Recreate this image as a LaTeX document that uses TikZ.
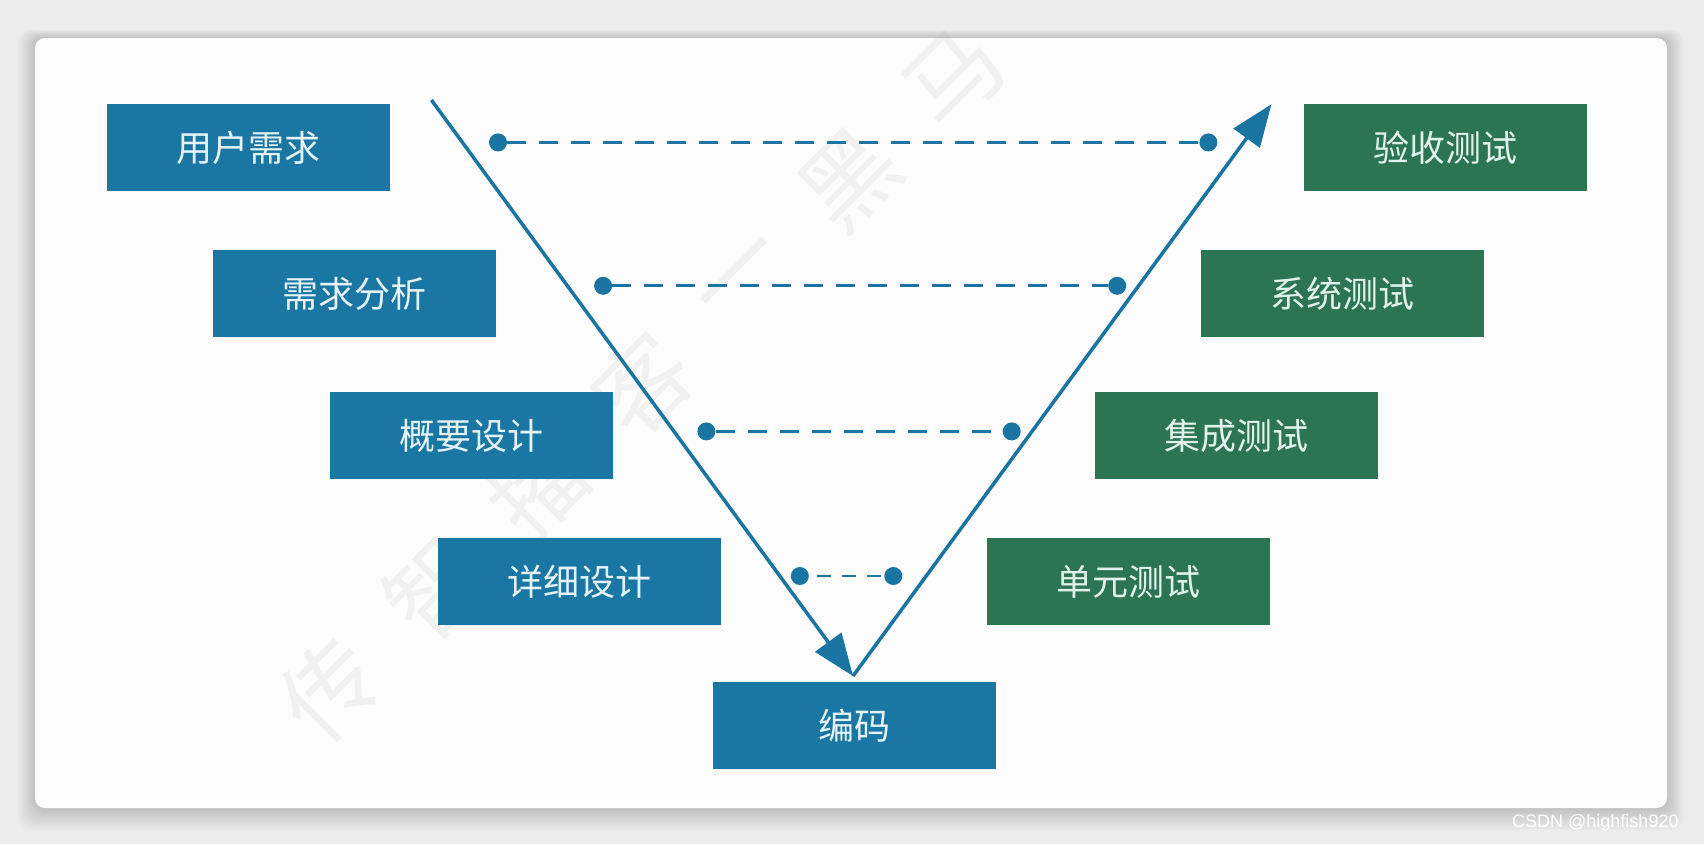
\documentclass[tikz,border=0pt]{standalone}
\usepackage{fontspec}
\setmainfont{Noto Sans CJK SC}
\newfontfamily\latinsans{Liberation Sans}
\usetikzlibrary{arrows.meta}
\definecolor{vblue}{HTML}{1A77A4}
\definecolor{vgreen}{HTML}{2B7553}
\definecolor{vline}{HTML}{1A75A2}
\definecolor{bgout}{HTML}{ECECEC}
\definecolor{cardbg}{HTML}{FBFCFB}
\definecolor{textblue}{HTML}{E6F3F6}
\definecolor{textgreen}{HTML}{E2F2EA}
\definecolor{wmark}{HTML}{8A8C8A}
\tikzset{
  vbox/.style={minimum width=283pt, minimum height=87pt, inner sep=0pt, font=\fontsize{36}{40}\selectfont},
  devbox/.style={vbox, fill=vblue, text=textblue},
  testbox/.style={vbox, fill=vgreen, text=textgreen},
  vedge/.style={draw=vline, line width=3.5pt, -{Triangle[length=42pt,width=32pt]}},
  pairline/.style={draw=vline, line width=2.8pt, dash pattern=on 19pt off 13pt},
  shortpair/.style={draw=vline, line width=2.8pt, dash pattern=on 14pt off 11pt, dash phase=-8pt},
  pdot/.style={circle, fill=vline, minimum size=18pt, inner sep=0pt},
  wm/.style={text=wmark, opacity=0.09, font=\fontsize{95}{95}\selectfont, rotate=45, inner sep=0pt},
}
\begin{document}
\begin{tikzpicture}[x=1pt,y=-1pt]
\useasboundingbox (0,0) rectangle (1704,844);
\fill[bgout] (0,0) rectangle (1704,844);
% shadow
\foreach \i in {1,...,14}
  \fill[black, opacity=0.012, rounded corners=12pt] (35-\i*1.2,38-\i*0.6) rectangle (1667+\i*1.2,808+\i*1.6);
% card
\fill[cardbg, rounded corners=10pt] (35,38) rectangle (1667,808);

% faint watermark (behind)
\foreach \ch [count=\i from 0] in {传,智,播,客,一,黑,马}
  \node[wm] (wm\i) at (330+\i*104,690-\i*102) {\ch};

% development side
\node[devbox] (req)  at (248.9,147.8) {用户需求};
\node[devbox] (ana)  at (354.3,293.4) {需求分析};
\node[devbox] (hld)  at (471.6,435.8) {概要设计};
\node[devbox] (lld)  at (579.2,581.4) {详细设计};
\node[devbox] (code) at (854.2,725.9) {编码};
% testing side
\node[testbox] (acc) at (1445.3,147.8) {验收测试};
\node[testbox] (sys) at (1342.1,293.4) {系统测试};
\node[testbox] (int) at (1236.7,435.8) {集成测试};
\node[testbox] (unit) at (1128.0,581.4) {单元测试};

% V shape
\coordinate (vtopl) at (431.4,100);
\coordinate (vbot) at (853,676);
\coordinate (vtopr) at (1271.4,104.3);
\draw[vedge] (vtopl) -- (vbot);
\draw[vedge] (vbot) -- (vtopr);

% correspondence lines
\node[pdot] (d1l) at (498,142.4) {};
\node[pdot] (d1r) at (1208.4,142.4) {};
\node[pdot] (d2l) at (603.1,285.8) {};
\node[pdot] (d2r) at (1117.2,285.8) {};
\node[pdot] (d3l) at (706.4,431.4) {};
\node[pdot] (d3r) at (1011.7,431.4) {};
\node[pdot] (d4l) at (799.8,576) {};
\node[pdot] (d4r) at (893.3,576) {};
\draw[pairline] (d1l) -- (d1r);
\draw[pairline] (d2l) -- (d2r);
\draw[pairline] (d3l) -- (d3r);
\draw[shortpair] (d4l) -- (d4r);

% corner credit
\node[anchor=west, text=white, inner sep=0pt, font=\latinsans\fontsize{18}{20}\selectfont] (csdn) at (1512,823) {CSDN @highfish920};
\end{tikzpicture}
\end{document}
